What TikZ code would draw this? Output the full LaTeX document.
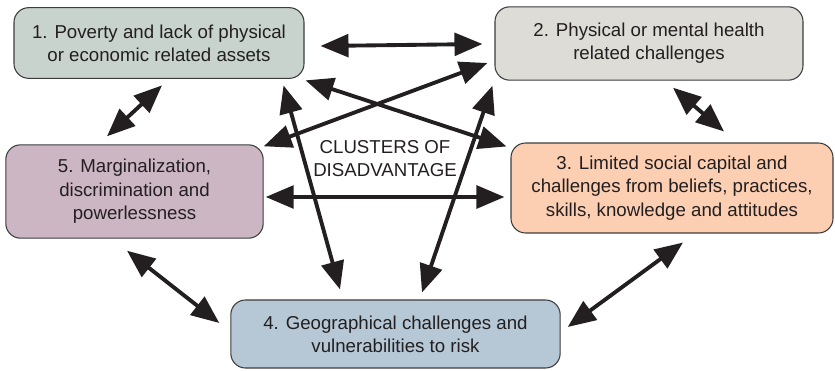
\documentclass[tikz,border=0pt]{standalone}
\usepackage{fontspec}
\setmainfont{Liberation Sans}
\usetikzlibrary{arrows.meta,calc}

\begin{document}
\begin{tikzpicture}[x=0.75pt,y=0.75pt,yscale=-1,xscale=1,
  box/.style={draw={rgb, 255:red, 60; green, 60; blue, 60}, line width=0.8pt, rounded corners=11pt, align=center, inner sep=0.75pt, text={rgb, 255:red, 35; green, 31; blue, 32}, font=\fontsize{14}{17.5}\selectfont},
  link/.style={line width=2.9pt, {Triangle[length=21pt,width=17pt]}-{Triangle[length=21pt,width=17pt]}, color={rgb, 255:red, 35; green, 31; blue, 32}}]
\path[use as bounding box] (0,0) rectangle (835,371);

%Shape: Rounded Rect [id:poverty]
\node[box, fill={rgb, 255:red, 200; green, 211; blue, 205}, minimum width=217.5pt, minimum height=53pt] (poverty) at (159,43) {1. Poverty and lack of physical\\or economic related assets};
%Shape: Rounded Rect [id:health]
\node[box, fill={rgb, 255:red, 221; green, 220; blue, 214}, minimum width=231pt, minimum height=55pt] (health) at (649,43.5) {2. Physical or mental health\\related challenges};
%Shape: Rounded Rect [id:social]
\node[box, fill={rgb, 255:red, 252; green, 207; blue, 178}, minimum width=241.5pt, minimum height=67.5pt] (social) at (672,188) {3. Limited social capital and\\challenges from beliefs, practices,\\skills, knowledge and attitudes};
%Shape: Rounded Rect [id:geo]
\node[box, fill={rgb, 255:red, 182; green, 200; blue, 214}, minimum width=247pt, minimum height=51pt] (geo) at (395.5,334) {4. Geographical challenges and\\vulnerabilities to risk};
%Shape: Rounded Rect [id:margin]
\node[box, fill={rgb, 255:red, 204; green, 182; blue, 196}, minimum width=193pt, minimum height=70pt] (margin) at (134.5,191.5) {5. Marginalization,\\discrimination and\\powerlessness};

% Text Node
\node[align=center, inner sep=0.75pt, text={rgb, 255:red, 35; green, 31; blue, 32}, font=\fontsize{14}{17.25}\selectfont] (clusters) at (385,159) {CLUSTERS OF\\DISADVANTAGE};

%Straight Lines
\draw[link] ($(poverty.east)+(16,3)$) -- ($(health.west)+(-12,0.5)$);
\draw[link] ($(poverty.south)+(3,6.5)$) -- ($(margin.north)+(-27.5,-8)$);
\draw[link] ($(health.south)+(24,7)$) -- ($(social.north)+(52,-11)$);
\draw[link] ($(margin.east)+(2,5.5)$) -- ($(social.west)+(-6,9)$);
\draw[link] ($(margin.south)+(-7.5,12)$) -- ($(geo.west)+(-11,-11)$);
\draw[link] ($(social.south)+(11,9)$) -- ($(geo.east)+(7,-7)$);
\draw[link] ($(poverty.south east)+(-21,6.5)$) -- ($(geo.north)+(-55.5,-10)$);
\draw[link] ($(health.south west)+(-2,5)$) -- ($(geo.north)+(26.5,-7)$);
\draw[link] ($(poverty.south east)+(1,1.5)$) -- ($(social.north west)+(-4,4)$);
\draw[link] ($(margin.north east)+(0,2)$) -- ($(health.west)+(-7,19.5)$);

\end{tikzpicture}
\end{document}
